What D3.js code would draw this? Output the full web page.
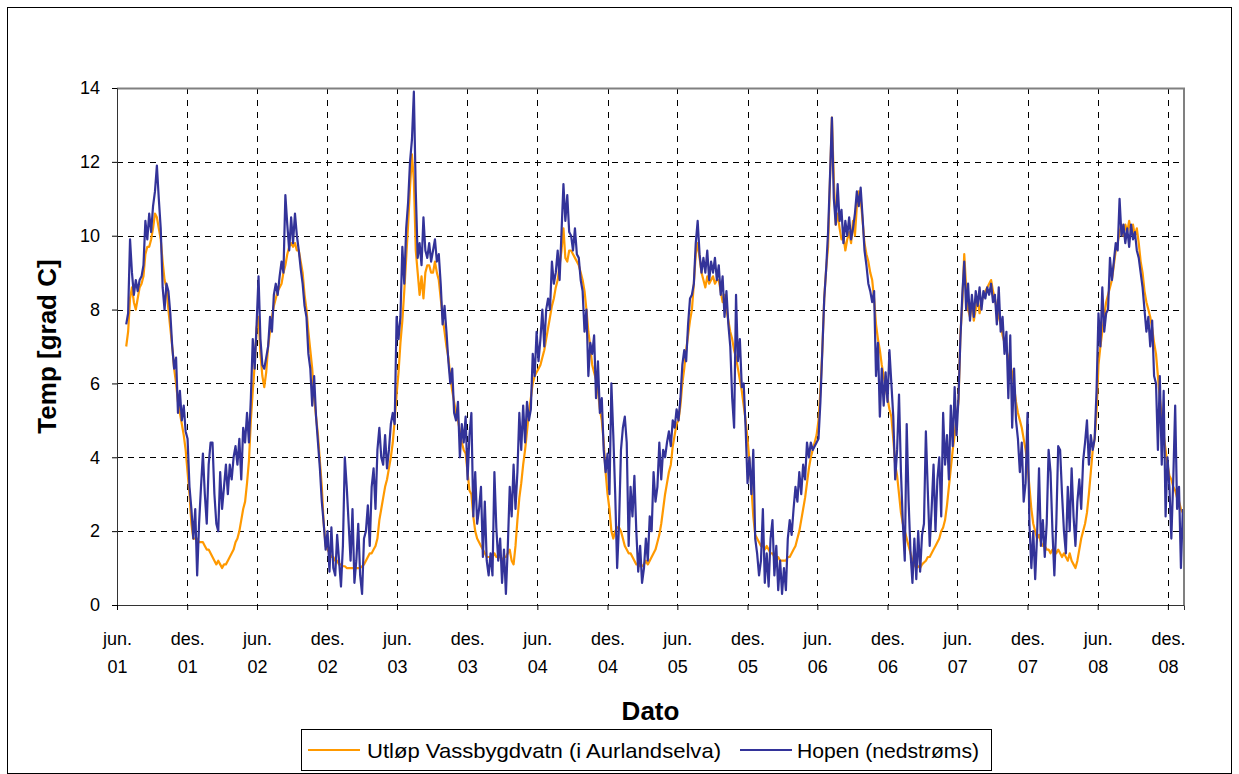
<!DOCTYPE html>
<html>
<head>
<meta charset="utf-8">
<script src="https://cdn.jsdelivr.net/npm/d3@7"></script>
<style>
  body { margin: 0; background: #fff; }
  svg { display: block; font-family: "Liberation Sans", Arial, sans-serif; }
</style>
</head>
<body>
<svg id="chart" width="1239" height="774"></svg>
<script>
// daily temperature, one value every 5 days from startDate
var startDate = "2001-06-25";
var stepDays = 5;

// Utløp Vassbygdvatn (i Aurlandselva)
var utlop = [
  7.0, 7.4, 8.3, 8.6, 8.2, 8.0, 8.3, 8.6, 8.7, 8.9,
  9.5, 9.7, 9.7, 9.9, 10.2, 10.6, 10.5, 10.2, 9.9, 9.3,
  8.8, 8.6, 8.0, 7.5, 7.0, 6.4, 6.0, 5.5, 5.2, 4.9,
  4.6, 4.2, 3.6, 3.0, 2.2, 1.8, 1.8, 1.8, 1.7, 1.7,
  1.7, 1.6, 1.5, 1.5, 1.4, 1.3, 1.2, 1.1, 1.2, 1.1,
  1.0, 1.1, 1.1, 1.2, 1.3, 1.4, 1.5, 1.7, 1.8, 2.0,
  2.3, 2.6, 2.8, 3.3, 3.9, 5.0, 5.8, 6.5, 7.5, 7.8,
  6.8, 6.2, 5.9, 6.3, 7.0, 7.4, 7.8, 8.1, 8.3, 8.5,
  8.6, 8.7, 9.0, 9.2, 9.5, 9.7, 9.8, 9.7, 9.8, 9.6,
  9.6, 9.3, 9.0, 8.4, 8.0, 7.4, 6.9, 6.4, 5.6, 5.1,
  4.6, 3.9, 3.2, 2.2, 1.6, 1.5, 1.4, 1.3, 1.3, 1.2,
  1.2, 1.1, 1.1, 1.05, 1.05, 1.0, 1.0, 1.0, 1.0, 1.0,
  1.0, 1.0, 1.0, 1.05, 1.1, 1.2, 1.3, 1.4, 1.4, 1.5,
  1.6, 1.8, 2.3, 2.6, 2.9, 3.2, 3.4, 3.7, 4.0, 4.4,
  5.0, 5.7, 6.3, 7.1, 7.7, 8.5, 9.4, 10.3, 11.3, 12.2,
  11.5, 9.6, 9.0, 8.4, 8.9, 8.3, 9.0, 9.2, 9.2, 9.0,
  9.0, 9.3, 9.0, 8.8, 8.3, 7.8, 7.4, 7.0, 6.7, 6.2,
  5.8, 5.5, 5.2, 5.0, 4.7, 4.4, 4.2, 4.1, 3.6, 3.1,
  3.0, 2.4, 2.0, 1.8, 1.7, 1.6, 1.5, 1.4, 1.3, 1.3,
  1.3, 1.3, 1.4, 1.3, 1.3, 1.3, 1.2, 1.3, 1.3, 1.4,
  1.5, 1.2, 1.1, 1.6, 2.3, 2.9, 3.3, 3.8, 4.2, 4.7,
  5.2, 5.6, 6.0, 6.2, 6.3, 6.4, 6.5, 6.7, 6.9, 7.2,
  7.5, 7.8, 8.1, 8.3, 8.6, 8.8, 9.2, 9.6, 10.2, 9.4,
  9.3, 9.6, 9.6, 9.5, 9.4, 9.3, 9.2, 9.0, 8.8, 8.5,
  8.0, 7.4, 7.0, 6.5, 6.3, 6.1, 5.8, 5.3, 5.0, 4.4,
  3.6, 3.0, 2.6, 2.0, 1.8, 2.0, 2.1, 2.1, 2.0, 1.8,
  1.6, 1.5, 1.4, 1.4, 1.3, 1.2, 1.1, 1.1, 1.05, 1.05,
  1.1, 1.2, 1.1, 1.2, 1.3, 1.4, 1.5, 1.7, 1.9, 2.2,
  2.6, 3.0, 3.3, 3.6, 3.8, 4.3, 4.6, 4.9, 5.0, 5.4,
  6.0, 6.4, 6.9, 7.3, 7.7, 8.0, 8.7, 9.5, 9.8, 9.4,
  9.0, 8.8, 8.6, 8.9, 8.7, 8.8, 8.9, 8.7, 8.8, 8.8,
  8.5, 8.2, 8.4, 8.0, 7.7, 7.4, 7.2, 6.9, 6.7, 6.4,
  6.1, 5.8, 5.4, 5.0, 4.5, 3.9, 3.2, 2.4, 1.9, 1.8,
  1.7, 1.6, 1.6, 1.5, 1.6, 1.5, 1.4, 1.4, 1.3, 1.3,
  1.3, 1.2, 1.2, 1.2, 1.2, 1.3, 1.3, 1.4, 1.5, 1.6,
  1.8, 2.0, 2.3, 2.6, 2.9, 3.3, 3.7, 4.0, 4.2, 4.4,
  4.6, 5.0, 5.8, 6.9, 8.3, 9.1, 9.7, 11.5, 13.2, 11.5,
  10.3, 10.6, 10.2, 9.9, 10.0, 9.6, 9.9, 10.1, 9.8, 10.4,
  10.0, 10.8, 11.2, 11.0, 10.4, 9.8, 9.5, 9.3, 9.0, 8.8,
  8.3, 7.6, 7.2, 6.9, 6.5, 6.2, 5.9, 5.6, 5.3, 5.1,
  4.5, 3.8, 3.5, 3.0, 2.5, 2.2, 2.0, 1.8, 1.6, 1.4,
  1.2, 1.1, 1.0, 1.05, 1.0, 1.1, 1.15, 1.2, 1.3, 1.3,
  1.4, 1.5, 1.6, 1.7, 1.8, 2.0, 2.1, 2.3, 2.7, 3.2,
  3.7, 4.2, 4.6, 5.1, 5.5, 7.3, 8.2, 9.5, 8.6, 8.0,
  7.8, 8.2, 7.7, 8.0, 8.3, 7.9, 8.2, 8.4, 8.5, 8.6,
  8.7, 8.8, 8.5, 8.3, 8.0, 7.8, 7.6, 7.3, 7.1, 6.9,
  6.7, 6.5, 6.3, 5.9, 5.5, 5.2, 5.0, 4.8, 4.5, 4.2,
  3.8, 3.2, 2.6, 2.2, 2.0, 1.8, 1.9, 1.7, 1.6, 1.6,
  1.5, 1.5, 1.4, 1.5, 1.5, 1.4, 1.5, 1.4, 1.3, 1.4,
  1.3, 1.2, 1.4, 1.2, 1.1, 1.0, 1.2, 1.5, 1.8, 2.0,
  2.2, 2.5, 3.0, 3.6, 4.2, 4.5, 5.2, 6.5, 7.0, 7.4,
  7.8, 8.2, 8.4, 8.6, 8.8, 9.2, 9.6, 9.8, 10.1, 10.3,
  10.0, 10.3, 10.1, 10.4, 10.1, 10.3, 10.0, 10.2, 9.8, 9.3,
  9.0, 8.5, 8.2, 8.0, 7.8, 7.5, 7.1, 6.8, 6.2, 5.6,
  5.1, 4.6, 4.2, 3.8, 3.5, 3.4, 3.2, 3.1, 2.9, 2.8,
  2.6, 2.5
];

// Hopen (nedstrøms)
var hopen = [
  7.6, 7.9, 9.9, 9.0, 8.4, 8.8, 8.5, 8.8, 8.9, 9.2,
  10.4, 9.9, 10.6, 10.1, 10.8, 11.2, 11.9, 11.0, 10.2, 8.6,
  8.0, 8.7, 8.5, 7.9, 7.0, 6.4, 6.7, 5.2, 5.8, 5.0,
  5.4, 4.7, 4.5, 3.2, 2.6, 1.8, 2.6, 0.8, 2.2, 3.2,
  4.1, 3.0, 2.2, 3.8, 4.4, 4.4, 3.0, 2.2, 2.0, 3.6,
  2.6, 3.2, 3.8, 3.0, 3.8, 3.4, 4.0, 4.3, 3.8, 4.5,
  3.4, 4.8, 4.4, 5.2, 4.4, 5.6, 7.2, 6.4, 7.6, 8.9,
  7.2, 6.5, 6.4, 6.7, 7.0, 7.8, 7.4, 8.4, 8.7, 8.4,
  8.9, 9.3, 9.0, 11.1, 10.3, 9.6, 10.5, 9.8, 10.6, 10.0,
  9.6, 9.1, 8.7, 8.1, 7.8, 6.8, 6.4, 5.4, 6.2, 5.1,
  4.4, 3.7, 2.8, 2.2, 1.5, 2.0, 0.9, 2.1, 1.0, 0.8,
  1.9, 1.2, 0.5, 1.6, 4.0, 3.2, 2.2, 1.2, 2.6, 0.6,
  1.2, 2.2, 0.8, 0.3, 1.8, 2.0, 2.7, 1.6, 3.2, 3.7,
  2.6, 4.2, 4.8, 4.0, 3.8, 4.6, 3.7, 4.2, 4.9, 5.2,
  4.9, 7.8, 7.2, 7.8, 9.7, 8.7, 10.2, 10.9, 12.0, 12.6,
  13.9, 11.2, 9.4, 9.8, 9.2, 10.5, 9.6, 9.4, 9.8, 9.3,
  9.6, 9.9, 9.3, 9.5, 8.7, 7.6, 8.1, 7.4, 6.6, 6.0,
  6.4, 5.2, 5.0, 5.5, 4.0, 4.9, 4.4, 5.1, 3.4, 4.6,
  5.2, 2.4, 3.6, 2.2, 2.6, 3.2, 1.3, 2.8, 1.2, 0.8,
  1.4, 0.8, 3.6, 2.1, 1.2, 1.8, 0.6, 1.5, 0.3, 1.6,
  3.2, 2.4, 3.8, 2.6, 3.6, 5.2, 4.2, 5.4, 4.4, 5.5,
  5.0, 5.3, 6.8, 6.2, 7.4, 6.6, 7.2, 8.0, 7.0, 8.0,
  8.3, 8.0, 9.3, 8.7, 9.0, 9.6, 8.8, 10.1, 11.4, 10.4,
  11.1, 10.1, 10.0, 9.6, 10.2, 9.5, 9.4, 8.8, 8.5, 7.4,
  8.0, 6.2, 7.1, 6.8, 7.3, 5.6, 6.6, 5.2, 5.6, 4.2,
  3.6, 4.1, 3.0, 6.0, 4.6, 3.0, 1.0, 2.2, 4.2, 4.8,
  5.1, 4.4, 1.6, 3.2, 2.4, 3.5, 2.0, 0.9, 1.6, 0.6,
  1.0, 1.8, 1.2, 2.4, 2.0, 3.6, 2.8, 3.2, 4.4, 3.4,
  4.2, 4.0, 4.4, 4.7, 4.3, 5.0, 4.8, 5.3, 5.0, 5.6,
  6.5, 6.9, 6.6, 7.6, 8.3, 8.4, 8.7, 9.8, 10.4, 9.5,
  9.0, 9.4, 9.0, 9.6, 8.8, 9.3, 9.0, 9.4, 8.8, 9.2,
  8.4, 8.9, 7.8, 8.5, 7.6, 7.0, 5.6, 4.8, 8.4, 6.6,
  7.2, 5.9, 6.0, 4.8, 3.3, 4.0, 3.0, 4.2, 1.8, 1.4,
  0.8, 1.2, 2.6, 0.6, 1.4, 0.5, 1.8, 2.3, 0.8, 1.6,
  0.4, 1.2, 0.3, 1.0, 0.4, 1.8, 2.3, 1.9, 2.6, 3.2,
  2.8, 3.6, 3.0, 3.8, 3.4, 4.4, 4.0, 4.4, 4.2, 4.3,
  4.4, 4.5, 5.5, 6.9, 8.3, 9.1, 10.1, 11.6, 13.2, 11.0,
  10.3, 11.4, 10.4, 10.7, 9.8, 10.4, 10.0, 10.5, 9.9, 10.2,
  10.6, 11.2, 10.8, 11.3, 10.5, 9.6, 9.2, 8.7, 8.5, 8.2,
  8.5, 6.2, 7.1, 5.1, 6.4, 5.4, 6.3, 5.5, 6.9, 6.0,
  5.1, 3.4, 4.2, 5.7, 3.6, 2.2, 1.2, 4.9, 2.8, 1.4,
  0.6, 1.8, 0.7, 2.0, 0.9, 1.9, 2.2, 4.7, 3.1, 1.6,
  2.6, 3.8, 2.0, 3.4, 4.0, 2.4, 5.2, 3.8, 4.6, 3.4,
  5.4, 4.3, 5.9, 4.6, 5.6, 7.2, 8.4, 9.3, 8.0, 8.7,
  7.7, 8.4, 7.8, 8.5, 8.1, 8.6, 8.0, 8.5, 8.3, 8.6,
  8.4, 8.7, 8.2, 8.4, 7.6, 8.6, 7.4, 7.8, 6.8, 7.4,
  5.6, 7.3, 4.8, 6.4, 5.0, 4.5, 3.6, 4.4, 2.8, 3.3,
  5.2, 2.2, 1.0, 2.0, 0.7, 1.9, 3.7, 1.6, 2.3, 1.3,
  2.2, 4.2, 3.6, 2.0, 0.8, 2.2, 4.3, 4.2, 3.0, 2.0,
  1.4, 3.2, 2.0, 3.7, 2.4, 1.6, 2.8, 3.4, 2.6, 3.9,
  4.4, 5.0, 3.8, 4.6, 4.2, 4.5, 5.8, 7.9, 7.0, 8.6,
  7.4, 7.9, 8.0, 9.4, 8.8, 9.3, 9.8, 9.6, 11.0, 10.0,
  10.3, 9.8, 10.2, 9.7, 10.3, 9.9, 10.1, 9.6, 9.4, 9.0,
  8.6, 8.0, 7.4, 7.8, 7.0, 7.7, 6.2, 6.0, 4.2, 6.2,
  3.8, 5.8, 2.4, 4.0, 3.2, 1.8, 3.4, 5.4, 2.6, 3.2,
  1.0, 2.6
];

var xTickDates = ["2001-06-01", "2001-12-01", "2002-06-01", "2002-12-01",
  "2003-06-01", "2003-12-01", "2004-06-01", "2004-12-01",
  "2005-06-01", "2005-12-01", "2006-06-01", "2006-12-01",
  "2007-06-01", "2007-12-01", "2008-06-01", "2008-12-01"];
var xTickMonths = ["jun.", "des.", "jun.", "des.", "jun.", "des.", "jun.", "des.",
  "jun.", "des.", "jun.", "des.", "jun.", "des.", "jun.", "des."];
var xTickYears = ["01", "01", "02", "02", "03", "03", "04", "04",
  "05", "05", "06", "06", "07", "07", "08", "08"];
var yTicks = [0, 2, 4, 6, 8, 10, 12, 14];

var seriesNames = ["Utløp Vassbygdvatn (i Aurlandselva)", "Hopen (nedstrøms)"];
var seriesColors = ["#ff9900", "#333399"];

var parse = d3.utcParse("%Y-%m-%d");
var margin = { top: 88, right: 55, bottom: 169, left: 117 };
var W = 1239, H = 774;
var width = W - margin.left - margin.right;
var height = H - margin.top - margin.bottom;

var svg = d3.select("#chart");

// outer chart frame
svg.append("rect")
  .attr("x", 7.5).attr("y", 7.5)
  .attr("width", W - 15).attr("height", H - 8)
  .attr("fill", "none").attr("stroke", "#000").attr("stroke-width", 1);

var g = svg.append("g").attr("transform", "translate(" + margin.left + "," + margin.top + ")");

var x = d3.scaleUtc()
  .domain([parse("2001-06-01"), parse("2009-01-12")])
  .range([0, width]);
var y = d3.scaleLinear().domain([0, 14]).range([height, 0]);

function toPoints(values) {
  var s = parse(startDate);
  return values.map(function (v, i) {
    return { date: d3.utcDay.offset(s, i * stepDays), value: v };
  });
}

// gridlines
g.append("g").selectAll("line")
  .data(yTicks.filter(function (d) { return d > 0 && d < 14; }))
  .join("line")
  .attr("x1", 0).attr("x2", width)
  .attr("y1", function (d) { return Math.round(y(d)) + 0.5; })
  .attr("y2", function (d) { return Math.round(y(d)) + 0.5; })
  .attr("stroke", "#000").attr("stroke-dasharray", "6,5");

g.append("g").selectAll("line")
  .data(xTickDates.slice(1))
  .join("line")
  .attr("x1", function (d) { return Math.round(x(parse(d))) + 0.5; })
  .attr("x2", function (d) { return Math.round(x(parse(d))) + 0.5; })
  .attr("y1", 0).attr("y2", height)
  .attr("stroke", "#000").attr("stroke-dasharray", "6,6");

// lines
var line = d3.line()
  .x(function (d) { return x(d.date); })
  .y(function (d) { return y(d.value); });

g.append("clipPath").attr("id", "clip")
  .append("rect").attr("width", width).attr("height", height + 1);

var plot = g.append("g").attr("clip-path", "url(#clip)");
[utlop, hopen].forEach(function (values, k) {
  plot.append("path")
    .datum(toPoints(values))
    .attr("fill", "none")
    .attr("stroke", seriesColors[k])
    .attr("stroke-width", 2.2)
    .attr("stroke-linejoin", "round")
    .attr("d", line);
});

// plot border (top / right)
g.append("path")
  .attr("d", "M0,0.5H" + width + "V" + height)
  .attr("fill", "none").attr("stroke", "#808080").attr("stroke-width", 2);

// y axis
var yAxis = g.append("g")
  .call(d3.axisLeft(y).tickValues(yTicks).tickSize(5).tickPadding(12));
yAxis.select(".domain").attr("stroke", "#333");
yAxis.selectAll("text").attr("font-size", 18).attr("fill", "#000")
  .attr("font-family", "Liberation Sans, Arial, sans-serif");

// x axis with two-line labels
var xAxis = g.append("g")
  .attr("transform", "translate(0," + height + ")")
  .call(d3.axisBottom(x).tickValues(xTickDates.map(parse)).tickSize(5).tickFormat(""));
xAxis.select(".domain").attr("stroke", "#333");
xAxis.selectAll(".tick").each(function (d, i) {
  var t = d3.select(this).append("text")
    .attr("fill", "#000").attr("font-size", 18)
    .attr("font-family", "Liberation Sans, Arial, sans-serif")
    .attr("text-anchor", "middle");
  t.append("tspan").attr("x", 0).attr("y", 40).text(xTickMonths[i]);
  t.append("tspan").attr("x", 0).attr("y", 68).text(xTickYears[i]);
});

// axis titles
svg.append("text")
  .attr("x", margin.left + width / 2).attr("y", 720)
  .attr("text-anchor", "middle")
  .attr("font-size", 26).attr("font-weight", "bold")
  .text("Dato");

svg.append("text")
  .attr("transform", "translate(56," + (margin.top + height / 2) + ") rotate(-90)")
  .attr("text-anchor", "middle")
  .attr("font-size", 26).attr("font-weight", "bold")
  .text("Temp [grad C]");

// legend
var legend = svg.append("g");
legend.append("rect")
  .attr("x", 301.5).attr("y", 729.5).attr("width", 690).attr("height", 41)
  .attr("fill", "#fff").attr("stroke", "#000");
var legendItems = [{ x: 308, tx: 367, len: 354 }, { x: 740, tx: 797, len: 182 }];
legendItems.forEach(function (it, k) {
  legend.append("line")
    .attr("x1", it.x).attr("x2", it.x + 52)
    .attr("y1", 750).attr("y2", 750)
    .attr("stroke", seriesColors[k]).attr("stroke-width", 2);
  legend.append("text")
    .attr("x", it.tx).attr("y", 757.5)
    .attr("font-size", 21)
    .attr("textLength", it.len)
    .attr("lengthAdjust", "spacingAndGlyphs")
    .text(seriesNames[k]);
});
</script>
</body>
</html>
